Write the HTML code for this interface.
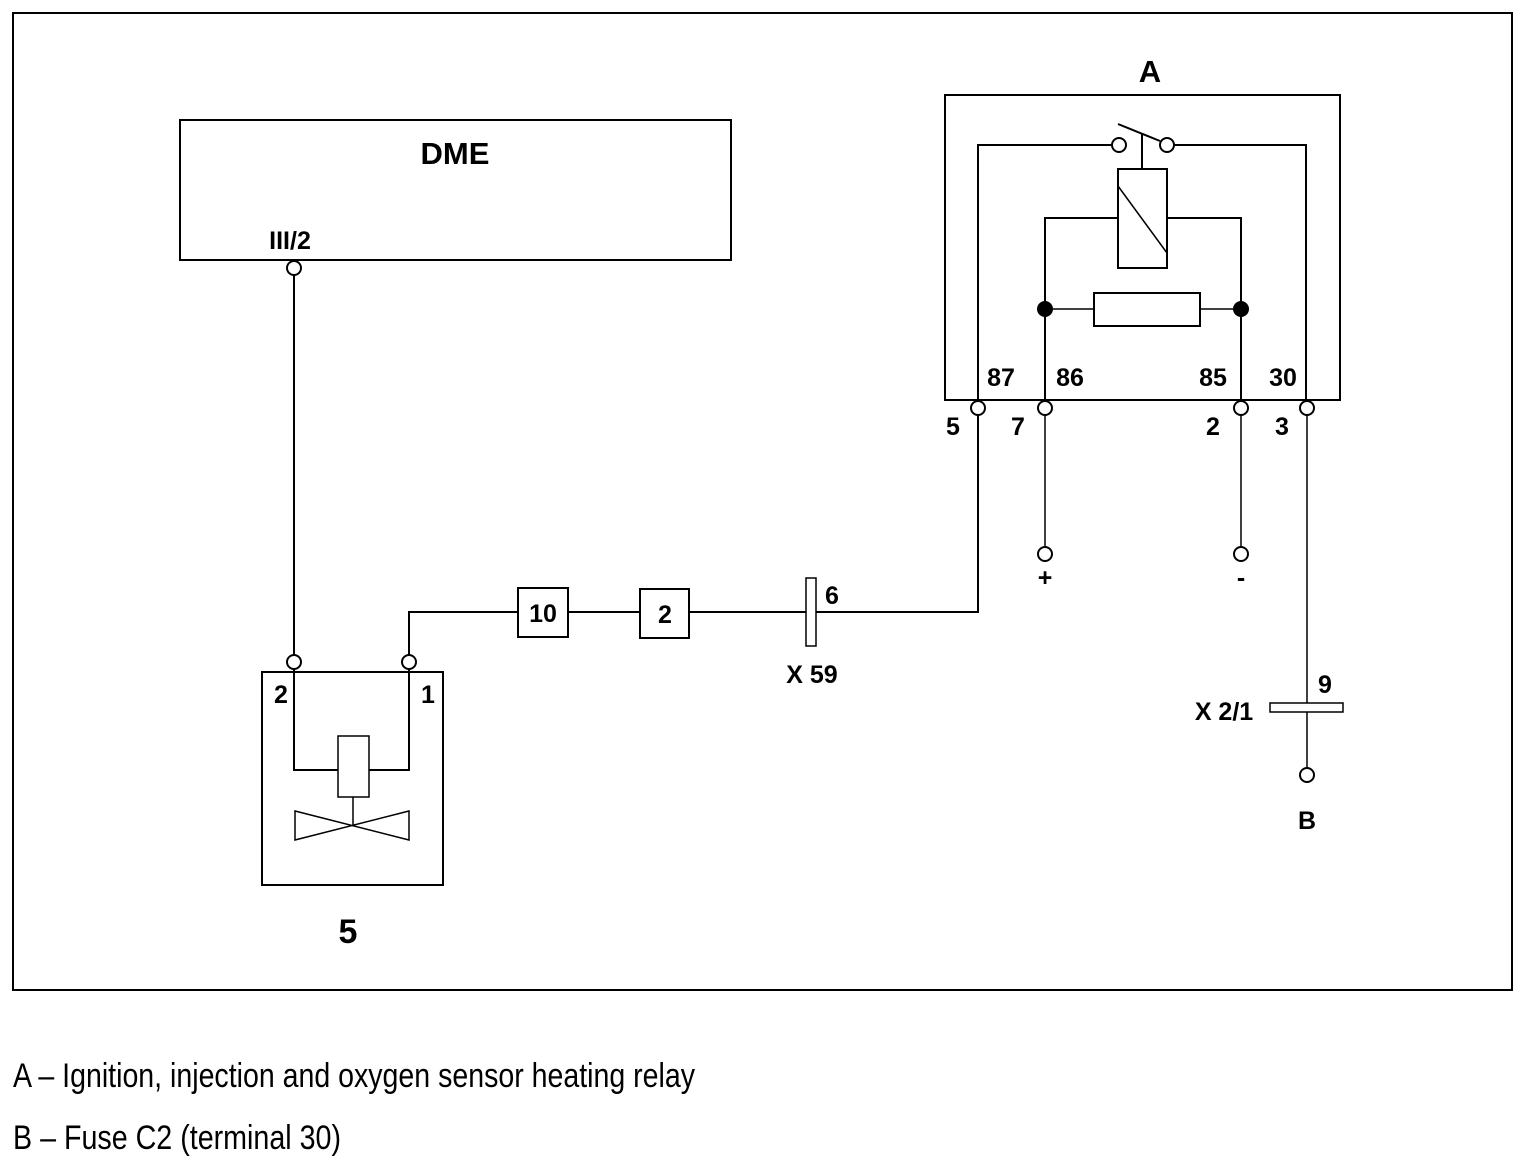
<!DOCTYPE html>
<html><head><meta charset="utf-8"><style>
html,body{margin:0;padding:0;background:#fff;}
svg{display:block;}
text{font-family:"Liberation Sans",Arial,sans-serif;fill:#000;}
.b{font-weight:bold;font-size:25px;}
</style></head><body>
<svg width="1524" height="1165" viewBox="0 0 1524 1165" xmlns="http://www.w3.org/2000/svg">
<g fill="none" stroke="#000" stroke-width="2">
<rect x="13" y="13" width="1499" height="977"/>
<rect x="180" y="120" width="551" height="140"/>
<circle cx="294" cy="268" r="7" fill="#fff"/>
<line x1="294" y1="275" x2="294" y2="655"/>
<rect x="262" y="672" width="181" height="213"/>
<circle cx="294" cy="662" r="7" fill="#fff"/>
<circle cx="409" cy="662" r="7" fill="#fff"/>
<polyline points="294,669 294,770 338,770"/>
<polyline points="369,770 409,770 409,669"/>
<rect x="338" y="736" width="31" height="61" stroke-width="1.5"/>
<line x1="353" y1="797" x2="353" y2="825" stroke-width="1.5"/>
<polygon points="295,811 295,840 409,811 409,840" stroke-width="1.5"/>
<polyline points="409,655 409,612 518,612"/>
<rect x="518" y="588" width="50" height="49"/>
<line x1="568" y1="612" x2="640" y2="612"/>
<rect x="640" y="589" width="49" height="49"/>
<line x1="689" y1="612" x2="806" y2="612"/>
<rect x="806" y="578" width="10" height="68" stroke-width="1.5"/>
<polyline points="816,612 978,612 978,415"/>
<rect x="945" y="95" width="395" height="305"/>
<circle cx="978" cy="408" r="7" fill="#fff"/>
<circle cx="1045" cy="408" r="7" fill="#fff"/>
<circle cx="1241" cy="408" r="7" fill="#fff"/>
<circle cx="1307" cy="408" r="7" fill="#fff"/>
<polyline points="978,400 978,145 1112,145"/>
<circle cx="1119" cy="145" r="7"/>
<circle cx="1167" cy="145" r="7"/>
<polyline points="1174,145 1306,145 1306,400"/>
<line x1="1118" y1="124" x2="1160" y2="141"/>
<line x1="1142" y1="134" x2="1142" y2="169"/>
<rect x="1118" y="169" width="49" height="99"/>
<line x1="1118" y1="186" x2="1167" y2="253" stroke-width="1.5"/>
<polyline points="1118,218 1045,218 1045,400"/>
<polyline points="1167,218 1241,218 1241,400"/>
<rect x="1094" y="293" width="106" height="33"/>
<line x1="1045" y1="309" x2="1094" y2="309" stroke-width="1.5"/>
<line x1="1200" y1="309" x2="1241" y2="309" stroke-width="1.5"/>
<line x1="1045" y1="415" x2="1045" y2="547" stroke-width="1.5"/>
<circle cx="1045" cy="554" r="7"/>
<line x1="1241" y1="415" x2="1241" y2="547" stroke-width="1.5"/>
<circle cx="1241" cy="554" r="7"/>
<line x1="1307" y1="415" x2="1307" y2="768" stroke-width="1.5"/>
<rect x="1270" y="703" width="73" height="9" fill="#fff" stroke-width="1.5"/>
<circle cx="1307" cy="775" r="7"/>
</g>
<circle cx="1045" cy="309" r="8" fill="#000"/>
<circle cx="1241" cy="309" r="8" fill="#000"/>
<text x="455" y="164" style="font-size:31px;font-weight:bold" text-anchor="middle">DME</text>
<text class="b" x="290" y="249" text-anchor="middle">III/2</text>
<text class="b" x="281" y="703" text-anchor="middle">2</text>
<text class="b" x="428" y="703" text-anchor="middle">1</text>
<text x="348" y="943" style="font-size:34px;font-weight:bold" text-anchor="middle">5</text>
<text class="b" x="543" y="622" text-anchor="middle">10</text>
<text class="b" x="665" y="623" text-anchor="middle">2</text>
<text class="b" x="832" y="604" text-anchor="middle">6</text>
<text class="b" x="812" y="683" text-anchor="middle">X 59</text>
<text x="1150" y="82" style="font-size:31px;font-weight:bold" text-anchor="middle">A</text>
<text class="b" x="1001" y="386" text-anchor="middle">87</text>
<text class="b" x="1070" y="386" text-anchor="middle">86</text>
<text class="b" x="1213" y="386" text-anchor="middle">85</text>
<text class="b" x="1283" y="386" text-anchor="middle">30</text>
<text class="b" x="953" y="435" text-anchor="middle">5</text>
<text class="b" x="1018" y="435" text-anchor="middle">7</text>
<text class="b" x="1213" y="435" text-anchor="middle">2</text>
<text class="b" x="1282" y="435" text-anchor="middle">3</text>
<text class="b" x="1045" y="586" text-anchor="middle">+</text>
<text class="b" x="1241" y="586" text-anchor="middle">-</text>
<text class="b" x="1325" y="693" text-anchor="middle">9</text>
<text class="b" x="1224" y="720" text-anchor="middle">X 2/1</text>
<text class="b" x="1307" y="829" text-anchor="middle">B</text>
<text x="13" y="1087" style="font-size:34px" textLength="682" lengthAdjust="spacingAndGlyphs">A – Ignition, injection and oxygen sensor heating relay</text>
<text x="13" y="1149" style="font-size:34px" textLength="328" lengthAdjust="spacingAndGlyphs">B – Fuse C2 (terminal 30)</text>
</svg>
</body></html>
